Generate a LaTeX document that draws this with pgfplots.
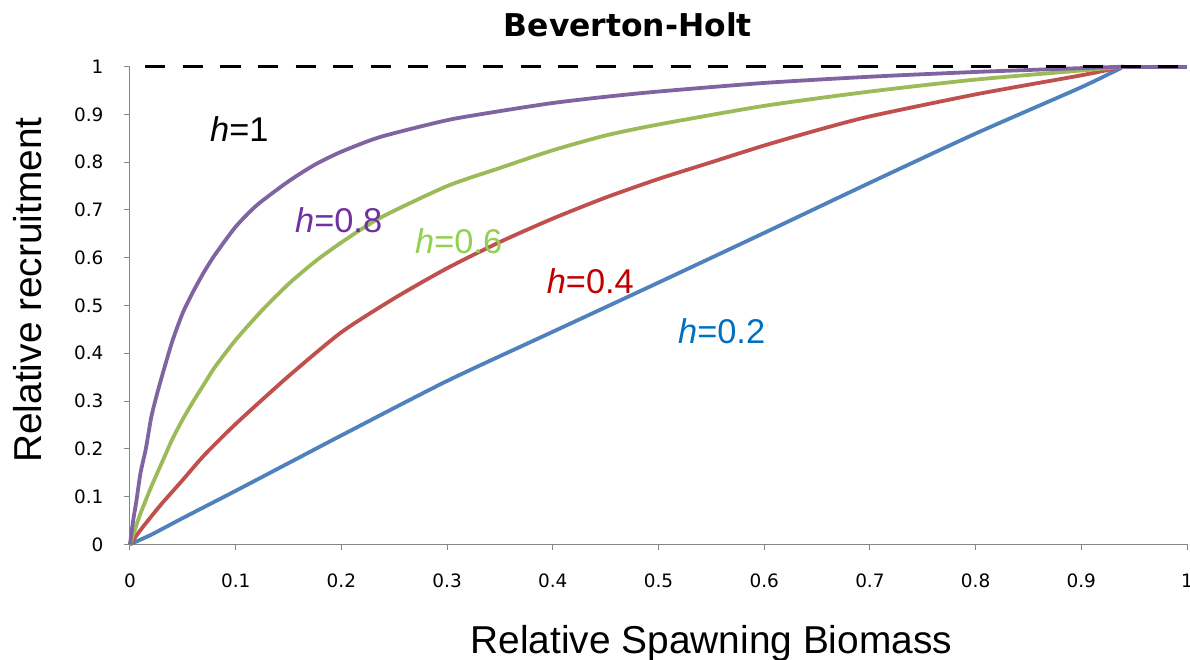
\documentclass[border=0pt]{standalone}
\usepackage{fontspec}
\setmainfont{Liberation Sans}
\newfontfamily\tickfont{DejaVu Sans}
\usepackage{pgfplots}
\pgfplotsset{compat=1.18}
\definecolor{cblue}{HTML}{4F81BD}
\definecolor{cred}{HTML}{C0504D}
\definecolor{cgreen}{HTML}{9BBB59}
\definecolor{cpurple}{HTML}{8064A2}
\definecolor{lpurple}{HTML}{7030A0}
\definecolor{lgreen}{HTML}{92D050}
\definecolor{lred}{HTML}{C00000}
\definecolor{lblue}{HTML}{0070C0}
\definecolor{axisgray}{HTML}{868686}
\begin{document}
\begin{tikzpicture}[x=1bp,y=1bp]
\useasboundingbox (-130,-115.7) rectangle (1060,544.3);
\begin{axis}[
  at={(0,0)}, anchor=south west,
  width=1057bp, height=477.6bp, scale only axis,
  xmin=0, xmax=1, ymin=0, ymax=1,
  clip=false,
  axis lines=left,
  axis line style={draw=axisgray, line width=1bp, -},
  tick style={draw=axisgray, line width=1bp},
  tick align=outside, major tick length=6bp,
  xtick={0,0.1,0.2,0.3,0.4,0.5,0.6,0.7,0.8,0.9,1},
  ytick={0,0.1,0.2,0.3,0.4,0.5,0.6,0.7,0.8,0.9,1},
  xticklabels={0,0.1,0.2,0.3,0.4,0.5,0.6,0.7,0.8,0.9,1},
  yticklabels={0,0.1,0.2,0.3,0.4,0.5,0.6,0.7,0.8,0.9,1},
  /pgf/number format/assume math mode=true,
  ticklabel style={font=\tickfont\fontsize{18.5}{18.5}\selectfont},
  xticklabel style={yshift=-20bp},
  yticklabel style={xshift=-17bp},
]
\addplot[cblue, line width=3.8bp, smooth, tension=0.4] coordinates {
(0,0) (0.02,0.02) (0.05,0.055) (0.1,0.112) (0.15,0.17) (0.2,0.228) (0.3,0.342) (0.4,0.445) (0.5,0.548) (0.6,0.652) (0.7,0.757) (0.8,0.86) (0.9,0.957) (0.94,1)};
\addplot[cblue, line width=3.8bp] coordinates {(0.94,1) (1,1)};
\addplot[cred, line width=3.8bp, smooth, tension=0.4] coordinates {
(0,0) (0.005,0.015) (0.01,0.03) (0.02,0.058) (0.03,0.085) (0.04,0.11) (0.05,0.135) (0.07,0.186) (0.1,0.252) (0.15,0.352) (0.2,0.444) (0.25,0.515) (0.3,0.578) (0.35,0.633) (0.4,0.682) (0.45,0.726) (0.5,0.765) (0.55,0.8) (0.6,0.835) (0.65,0.867) (0.7,0.896) (0.8,0.942) (0.9,0.982) (0.94,1)};
\addplot[cgreen, line width=3.8bp, smooth, tension=0.4] coordinates {
(0,0) (0.005,0.033) (0.01,0.065) (0.02,0.12) (0.03,0.17) (0.04,0.22) (0.05,0.262) (0.06,0.3) (0.07,0.335) (0.08,0.37) (0.1,0.428) (0.125,0.49) (0.15,0.545) (0.175,0.592) (0.2,0.632) (0.237,0.684) (0.3,0.75) (0.35,0.788) (0.4,0.825) (0.45,0.856) (0.5,0.879) (0.6,0.918) (0.7,0.948) (0.8,0.973) (0.9,0.992) (0.94,1)};
\addplot[cpurple, line width=3.8bp, smooth, tension=0.4] coordinates {
(0,0) (0.003,0.05) (0.006,0.09) (0.01,0.15) (0.015,0.2) (0.02,0.265) (0.025,0.31) (0.03,0.35) (0.04,0.425) (0.05,0.485) (0.06,0.53) (0.07,0.57) (0.08,0.605) (0.1,0.665) (0.12,0.71) (0.15,0.76) (0.175,0.795) (0.2,0.822) (0.237,0.853) (0.3,0.888) (0.35,0.907) (0.4,0.924) (0.45,0.937) (0.5,0.948) (0.6,0.966) (0.7,0.979) (0.8,0.989) (0.9,0.997) (0.94,1)};
\addplot[cpurple, line width=3.8bp] coordinates {(0.94,1) (1,1)};
\addplot[black, line width=3bp, dash pattern=on 20bp off 17.5bp, dash phase=22bp] coordinates {(0,1) (1,1)};
\node[anchor=base west, inner sep=0, font=\fontsize{34.5}{34.5}\selectfont, text=black] at (axis cs:0.0757,0.8428) {\textit{h}=1};
\node[anchor=base west, inner sep=0, font=\fontsize{34.5}{34.5}\selectfont, text=lpurple] at (axis cs:0.1561,0.6524) {\textit{h}=0.8};
\node[anchor=base west, inner sep=0, font=\fontsize{34.5}{34.5}\selectfont, text=lgreen] at (axis cs:0.2696,0.6093) {\textit{h}=0.6};
\node[anchor=base west, inner sep=0, font=\fontsize{34.5}{34.5}\selectfont, text=lred] at (axis cs:0.3942,0.5255) {\textit{h}=0.4};
\node[anchor=base west, inner sep=0, font=\fontsize{34.5}{34.5}\selectfont, text=lblue] at (axis cs:0.5184,0.4194) {\textit{h}=0.2};
\node[anchor=base, inner sep=0, font=\tickfont\bfseries\fontsize{31.5}{31.5}\selectfont] at (axis cs:0.4711,1.0628) {Beverton-Holt};
\node[anchor=base, inner sep=0, font=\fontsize{39}{39}\selectfont] at (axis cs:0.55,-0.2276) {Relative Spawning Biomass};
\node[anchor=base, inner sep=0, rotate=90, font=\fontsize{39}{39}\selectfont] at (axis cs:-0.0833,0.5325) {Relative recruitment};
\end{axis}
\end{tikzpicture}
\end{document}
